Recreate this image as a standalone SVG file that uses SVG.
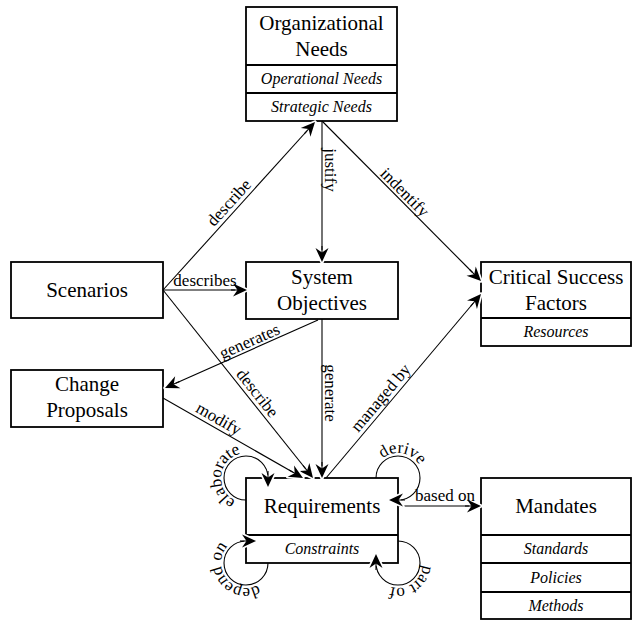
<svg xmlns="http://www.w3.org/2000/svg" width="637" height="624" viewBox="0 0 637 624" font-family="Liberation Serif, DejaVu Serif, serif">
  <style>
    .box { fill: #fff; stroke: #000; stroke-width: 1.8; }
    .div { stroke: #000; stroke-width: 1.8; }
    text { font-family: 'Liberation Serif', 'DejaVu Serif', serif; fill: #000; }
    .title { font-size: 21px; text-anchor: middle; }
    .sub { font-size: 16px; font-style: italic; text-anchor: middle; }
    .lbl { font-size: 17px; text-anchor: middle; }
    .edge { fill: none; stroke: #000; stroke-width: 1.1; marker-end: url(#arr); }
  </style>
  <defs>
    <marker id="arr" markerUnits="userSpaceOnUse" viewBox="-17 -9 19 18" markerWidth="19" markerHeight="18" refX="0" refY="0" orient="auto">
      <path d="M0,0 L-14,-6.5 L-9.5,0 L-14,6.5 Z" fill="#fff" stroke="#fff" stroke-width="3.5" stroke-linejoin="round"/>
      <path d="M0,0 L-14,-6.5 L-9.5,0 L-14,6.5 Z" fill="#000"/>
      <line x1="-16" y1="0" x2="-9" y2="0" stroke="#000" stroke-width="1.1"/>
    </marker>
    <!-- baseline arcs for the self-loop labels -->
    <path id="p-elaborate" d="M252.05,502.26 A25,25 0 1 1 256.96,455.53"/>
    <path id="p-derive" d="M373.38,482.34 A25,25 0 1 1 419.65,490.5"/>
    <path id="p-depend" d="M267.2,576.25 A25,25 0 1 1 238.27,539.22"/>
    <path id="p-partof" d="M412.69,542.78 A25,25 0 1 1 373.74,569.05"/>
  </defs>
  <rect width="637" height="624" fill="#fff"/>

  <g id="organizational-needs">
    <rect class="box" x="246" y="7" width="151" height="114"/>
    <line class="div" x1="246" y1="65" x2="397" y2="65"/>
    <line class="div" x1="246" y1="93" x2="397" y2="93"/>
    <text class="title" x="321.5" y="30">Organizational</text>
    <text class="title" x="321.5" y="56">Needs</text>
    <text class="sub" x="321.5" y="84">Operational Needs</text>
    <text class="sub" x="321.5" y="112">Strategic Needs</text>
  </g>

  <g id="scenarios">
    <rect class="box" x="11" y="262" width="152" height="56"/>
    <text class="title" x="87" y="297">Scenarios</text>
  </g>

  <g id="system-objectives">
    <rect class="box" x="246" y="262" width="152" height="57"/>
    <text class="title" x="322" y="284">System</text>
    <text class="title" x="322" y="310">Objectives</text>
  </g>

  <g id="critical-success-factors">
    <rect class="box" x="481" y="262" width="150" height="84"/>
    <line class="div" x1="481" y1="318" x2="631" y2="318"/>
    <text class="title" x="556" y="284">Critical Success</text>
    <text class="title" x="556" y="310">Factors</text>
    <text class="sub" x="556" y="337">Resources</text>
  </g>

  <g id="change-proposals">
    <rect class="box" x="11" y="370" width="152" height="57"/>
    <text class="title" x="87" y="391">Change</text>
    <text class="title" x="87" y="417">Proposals</text>
  </g>

  <g id="requirements">
    <rect class="box" x="246" y="478" width="152" height="85"/>
    <line class="div" x1="246" y1="535" x2="398" y2="535"/>
    <text class="title" x="322" y="513">Requirements</text>
    <text class="sub" x="322" y="554">Constraints</text>
  </g>

  <g id="mandates">
    <rect class="box" x="481" y="478" width="150" height="141"/>
    <line class="div" x1="481" y1="535" x2="631" y2="535"/>
    <line class="div" x1="481" y1="563" x2="631" y2="563"/>
    <line class="div" x1="481" y1="592" x2="631" y2="592"/>
    <text class="title" x="556" y="513">Mandates</text>
    <text class="sub" x="556" y="554">Standards</text>
    <text class="sub" x="556" y="583">Policies</text>
    <text class="sub" x="556" y="611">Methods</text>
  </g>

  <g id="connectors">
    <path class="edge" d="M163,290 L315,122"/>
    <path class="edge" d="M163,290 L247,290"/>
    <path class="edge" d="M322,121 L322,262"/>
    <path class="edge" d="M322,121 L481,281"/>
    <path class="edge" d="M318,320 L165,388"/>
    <path class="edge" d="M163,290 L313,478"/>
    <path class="edge" d="M163,398 L303,478"/>
    <path class="edge" d="M322,319 L322,478"/>
    <path class="edge" d="M326,478 L481,294"/>
    <path class="edge" d="M398,506 L481,506"/>
    <!-- self loops on Requirements -->
    <path class="edge" d="M246,500 A22,22 0 1 1 268,478 L268,487"/>
    <path class="edge" d="M376,478 A22,22 0 1 1 398,500 L389,500"/>
    <path class="edge" d="M268,563 A22,22 0 1 1 246,541 L256,541"/>
    <path class="edge" d="M398,541 A22,22 0 1 1 376,563 L376,554"/>

    <text class="lbl" transform="translate(236,209) rotate(-47.9)" y="-4">describe</text>
    <text class="lbl" x="205" y="286">describes</text>
    <text class="lbl" transform="translate(322,170) rotate(90)" y="-3">justify</text>
    <text class="lbl" transform="translate(398,199) rotate(45.2)" y="-4">indentify</text>
    <text class="lbl" transform="translate(253,349) rotate(-24)" y="-3">generates</text>
    <text class="lbl" transform="translate(250,399) rotate(51.4)" y="-4">describe</text>
    <text class="lbl" transform="translate(214,427) rotate(29.7)" y="-4">modify</text>
    <text class="lbl" transform="translate(322,393) rotate(90)" y="-3">generate</text>
    <text class="lbl" transform="translate(388,404) rotate(-49.9)" y="-4">managed by</text>
    <text class="lbl" x="445" y="501">based on</text>
    <text class="lbl"><textPath href="#p-elaborate" startOffset="50%">elaborate</textPath></text>
    <text class="lbl"><textPath href="#p-derive" startOffset="50%">derive</textPath></text>
    <text class="lbl"><textPath href="#p-depend" startOffset="50%">depend on</textPath></text>
    <text class="lbl"><textPath href="#p-partof" startOffset="50%">part of</textPath></text>
  </g>
</svg>
